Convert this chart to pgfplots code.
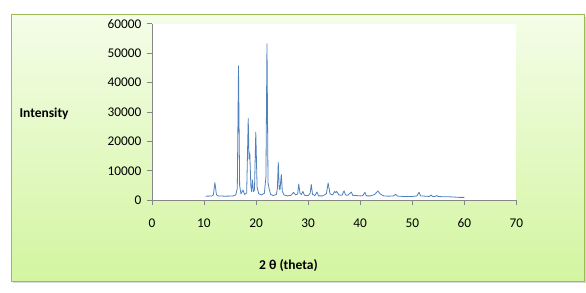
\documentclass[border=0pt]{standalone}
\usepackage{fontspec}
\setmainfont{Carlito}
\usepackage{pgfplots}
\pgfplotsset{compat=1.18}
\definecolor{boxborder}{HTML}{9BBB59}
\definecolor{boxtop}{HTML}{F4FDE8}
\definecolor{boxbot}{HTML}{D3F5A0}
\definecolor{axgray}{HTML}{868686}
\definecolor{lineblue}{HTML}{4F81BD}
\begin{document}
\begin{tikzpicture}[x=1pt,y=1pt]
\fill[white] (0,0) rectangle (586,292);
\fill[black!15] (13,9) rectangle (586,275);
\shade[top color=boxtop,bottom color=boxbot,draw=boxborder,line width=1pt] (11,11) rectangle (584,277);
\begin{axis}[
  at={(151.9pt,91.7pt)}, anchor=south west,
  scale only axis, width=364.5pt, height=176.6pt,
  xmin=0, xmax=70, ymin=0, ymax=60000,
  xtick={0,10,...,70}, ytick={0,10000,...,60000},
  axis x line*=bottom, axis y line*=left,
  axis line style={axgray, line width=0.8pt},
  tick style={axgray, line width=0.8pt},
  major tick length=5pt,
  tick align=outside,
  axis background/.style={fill=white},
  every tick label/.append style={font=\fontsize{13.3}{15}\selectfont},
  /pgf/number format/assume math mode=true,
  scaled y ticks=false,
  yticklabel style={/pgf/number format/fixed,/pgf/number format/1000 sep={}, xshift=-2pt},
  xticklabel style={yshift=-10pt},
  clip=false,
]
\addplot[lineblue, line width=0.8pt, line join=round] table {
10.3 1400
11.5 1450
11.8 1800
12.1 6000
12.4 1900
12.7 1500
14.0 1400
15.5 1450
16.1 1800
16.4 4000
16.63 45700
16.85 5000
17.1 2200
17.5 3500
17.8 2000
18.2 2500
18.5 27800
18.65 14000
18.8 16000
19.0 5000
19.15 3000
19.3 6900
19.5 3000
19.7 3500
19.95 23200
20.2 4500
20.5 2300
21.0 1800
21.6 2400
21.9 8000
22.1 53200
22.3 6000
22.5 4000
22.8 2000
23.3 1600
23.9 2000
24.1 4000
24.27 12900
24.45 4000
24.6 3500
24.85 8800
25.05 3000
25.4 1800
26.0 1500
26.7 1700
27.2 2700
27.6 1800
28.0 2200
28.2 5500
28.45 2300
28.7 2000
29.0 3000
29.3 1700
30.0 1600
30.4 2400
30.6 5400
30.85 2000
31.3 1600
31.7 2800
32.0 1500
32.8 1500
33.5 2200
33.85 5900
34.2 2200
34.7 1800
35.1 3000
35.3 2600
35.5 3000
35.9 1800
36.5 1700
36.9 3200
37.2 1800
37.6 1700
38.3 2800
38.6 1600
39.3 1600
40.0 1500
40.5 1600
40.9 2700
41.2 1500
42.0 1500
42.8 2000
43.4 3200
43.8 2200
44.5 1500
45.5 1400
46.4 1500
46.8 2000
47.2 1400
48.5 1300
50.0 1300
50.9 1500
51.3 2700
51.6 1500
52.5 1400
53.3 1300
53.6 1800
53.9 1300
54.4 1300
54.7 1600
55.0 1300
56.0 1200
57.0 1200
58.0 1100
59.0 1000
60.0 1000
};
\end{axis}
\node[font=\fontsize{13.5}{15}\selectfont\bfseries, anchor=west] at (16,178) {Intensity};
\node[font=\fontsize{13.5}{15}\selectfont\bfseries] at (288.5,26) {2 θ (theta)};
\end{tikzpicture}
\end{document}
